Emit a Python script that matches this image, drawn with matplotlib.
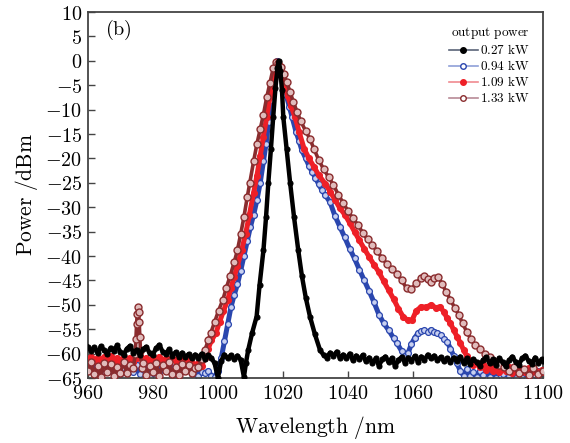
import matplotlib
matplotlib.use("Agg")
import matplotlib.pyplot as plt
from matplotlib.lines import Line2D

plt.rcParams['mathtext.fontset'] = 'cm'

# ---------------- data ----------------
x_027 = [960,961,962,963,964,965,966,967,968,969,970,971,972,973,974,975,976,977,978,979,
         980,981,982,983,984,985,986,987,988,989,990,991,992,993,994,995,996,997,998,999,
         1000,1001,1002,1003,1004,1005,1006,1007,1008,1008.6,1009.3,1010.5,1011.9,1012.8,1014,
         1014.8,1015.5,1016.3,1017,1017.7,1018.3,1018.7,1019.2,1019.7,1020.1,1021.1,1022.2,
         1023.4,1024.7,1025.8,1027,1028.3,1029.8,1031.4,1032.5,1033.5,1034.5,1035.5,1036.5,
         1037.5,1038.5,1039.5,1040.5,1041.5,1042.5,1043.5,1044.5,1045.5,1046.5,1047.5,1048.5,
         1049.5,1050.5,1051.5,1052.5,1053.5,1054.5,1055.5,1056.5,1057.5,1058.5,1059.5,1060.5,
         1061.5,1062.5,1063.5,1064.5,1065.5,1066.5,1067.5,1068.5,1069.5,1070.5,1071.5,1072.5,
         1073.5,1074.5,1075.5,1076.5,1077.5,1078.5,1079.5,1080.5,1081.5,1082.5,1083.5,1084.5,
         1085.5,1086.5,1087.5,1088.5,1089.5,1090.5,1091.5,1092.5,1093.5,1094.5,1095.5,1096.5,
         1097.5,1098.5,1099.5,1100]
y_027 = [-58.6,-59.4,-58.7,-59.9,-58.5,-59.3,-60.1,-58.8,-59.5,-58.3,-59.7,-60.2,-59.0,-58.4,-59.8,
         -59.2,-60.3,-59.1,-58.6,-59.9,-60.2,-58.9,-58.2,-59.6,-60.0,-59.1,-60.4,-59.7,-60.6,-59.8,
         -60.7,-60.1,-61.0,-60.2,-60.8,-60.0,-61.1,-60.3,-60.9,-62.0,-65.0,-61.5,-60.2,-61.0,-60.3,
         -61.2,-60.4,-61.3,-64.8,-62.0,-59.3,-55.8,-52.4,-46.0,-38.8,-32.0,-25.0,-18.0,-11.5,-5.5,
         -1.5,0.0,-2.0,-6.0,-11.5,-18.0,-25.0,-32.0,-38.8,-44.0,-48.5,-52.4,-56.0,-59.3,-60.3,
         -60.8,-59.8,-60.5,-59.6,-60.9,-60.2,-61.0,-60.0,-61.4,-60.4,-61.2,-60.3,-61.6,-60.8,-62.0,
         -61.0,-62.5,-61.2,-60.6,-61.8,-60.9,-62.6,-61.3,-60.7,-61.9,-60.8,-61.5,-60.5,-61.7,-60.6,
         -61.3,-60.2,-61.0,-60.4,-61.4,-60.7,-61.6,-60.9,-61.8,-60.8,-61.5,-60.6,-61.9,-61.0,-62.2,
         -61.1,-61.8,-62.5,-61.3,-60.7,-62.0,-61.2,-62.4,-60.9,-61.8,-62.6,-61.4,-60.6,-61.7,-62.3,
         -61.0,-60.4,-61.5,-62.1,-60.8,-61.9,-61.2,-61.6]

x_094 = [960,961,962,963,964,965,966,967,968,969,970,971,972,973,974,975,976,977,978,979,
         980,981,982,983,984,985,986,987,988,989,990,991,992,993,994,995,996,997,998,999,
         1000,1001,1002,1003,1004,1005,1006,1007,1008,1009,1010,1011,1012,1013,1014,1014.8,
         1015.6,1016.4,1017.2,1017.8,1018.3,1019,1020,1021,1022,1022.8,1024,1025,1025.8,1027,
         1028,1029,1030,1031,1032,1033,1034.5,1036,1037.5,1039,1040.5,1042,1043.5,1045,1046.5,
         1048,1049.5,1051,1052.5,1054,1055,1056.5,1057.5,1058.5,1059.5,1060.5,1061.5,1062.5,
         1063.5,1064.5,1065.5,1066.5,1067.5,1068.5,1069.5,1070.5,1071.5,1072.5,1073.5,1074.5,
         1075.5,1076.5,1077.5,1078.5,1079.5,1080.5,1081.5,1082.5,1083.5,1084.5,1085.5,1086.5,
         1087.5,1088.5,1089.5,1090.5,1091.5,1092.5,1093.5,1094.5,1095.5,1096.5,1097.5,1098.5,
         1099.5,1100]
y_094 = [-63.0,-62.2,-63.8,-62.5,-64.0,-62.8,-63.5,-62.1,-63.9,-62.6,-64.2,-62.9,-63.3,-62.0,-63.7,
         -62.4,-64.1,-62.7,-63.6,-62.3,-63.9,-62.5,-64.3,-62.8,-63.4,-62.2,-63.8,-62.6,-64.0,-62.9,
         -63.5,-62.4,-64.2,-63.1,-64.5,-63.8,-64.0,-63.5,-64.5,-64.8,-63.5,-61.0,-57.5,-54.0,-50.5,
         -48.0,-45.8,-43.0,-40.0,-37.0,-34.0,-31.5,-28.5,-25.0,-20.5,-17.0,-12.5,-8.0,-4.0,-1.0,
         0.0,-1.5,-4.0,-7.0,-9.5,-11.5,-14.5,-16.5,-18.3,-20.0,-21.5,-22.8,-24.0,-25.3,-26.5,
         -27.5,-29.0,-31.8,-34.0,-36.2,-38.5,-40.5,-42.8,-45.0,-47.2,-49.5,-52.0,-53.8,-55.2,
         -56.8,-57.8,-59.5,-60.5,-59.8,-58.0,-56.8,-55.8,-55.4,-55.2,-55.6,-55.1,-55.5,-55.7,
         -56.2,-57.0,-57.6,-59.0,-60.5,-62.0,-63.5,-64.5,-63.2,-64.6,-63.8,-64.8,-63.5,-64.4,
         -63.0,-64.7,-63.6,-64.9,-63.4,-64.2,-63.1,-64.6,-63.7,-64.9,-63.3,-64.5,-63.9,-64.8,
         -63.2,-64.3,-63.6,-64.7,-64.0]

x_109 = [960,961,962,963,964,965,966,967,968,969,970,971,972,973,974,975,976,977,978,979,
         980,981,982,983,984,985,986,987,988,989,990,991,992,993,994,995,996,997,998,999.4,
         1000.5,1001.7,1003,1004,1005,1006,1007.3,1008.5,1009.7,1011,1012,1013,1014,1015,1016,
         1016.8,1017.5,1018.2,1018.8,1019.5,1020.5,1021.5,1022.5,1023.7,1025,1026.5,1028,1029.5,
         1031,1033,1034.5,1036,1037.5,1039,1040.5,1042,1043.5,1045,1046.5,1048,1049.5,1051,
         1052.5,1054,1055.5,1057,1058.5,1059.7,1061,1062.5,1064,1065.5,1067,1068.3,1069.5,
         1070.5,1071.5,1072.5,1073.5,1074.5,1075.5,1076.5,1077.5,1078.5,1079.5,1080.5,1081.5,
         1082.5,1083.5,1084.5,1085.5,1086.5,1087.5,1088.5,1089.5,1090.5,1091.5,1092.5,1093.5,
         1094.5,1095.5,1096.5,1097.5,1098.5,1099.5,1100]
y_109 = [-61.2,-60.6,-61.5,-60.8,-61.9,-60.7,-61.3,-60.5,-61.6,-60.9,-61.8,-60.6,-61.4,-60.8,-61.7,
         -61.0,-60.5,-61.6,-60.9,-61.8,-60.7,-61.4,-60.6,-61.7,-61.0,-61.9,-60.8,-61.5,-60.7,-61.8,
         -61.1,-61.6,-61.9,-62.4,-62.0,-62.5,-60.8,-59.0,-57.3,-55.8,-53.5,-51.3,-49.0,-46.5,-44.3,
         -42.0,-38.8,-35.5,-31.5,-27.0,-23.5,-19.5,-15.5,-11.5,-7.5,-4.0,-1.5,-0.3,-0.8,-2.3,-5.0,
         -7.3,-9.3,-11.5,-14.6,-18.0,-20.0,-21.7,-23.4,-25.2,-26.8,-28.5,-30.2,-31.5,-33.2,-35.0,
         -36.8,-38.5,-40.2,-41.8,-43.3,-45.2,-47.0,-48.8,-50.8,-52.5,-53.2,-53.1,-51.2,-50.4,-50.5,
         -50.0,-50.6,-50.4,-51.5,-52.8,-53.8,-55.2,-56.5,-57.8,-59.2,-60.5,-61.5,-62.3,-62.0,-62.8,
         -62.2,-63.3,-62.6,-63.5,-62.9,-63.8,-63.0,-63.6,-62.8,-63.9,-63.2,-64.0,-63.1,-63.7,-62.9,
         -63.8,-63.3,-64.1,-63.4,-63.8]

x_133 = [960,961,962,963,964,965,966,967,968,969,970,971,972,973,974,974.6,974.8,975.0,975.2,
         975.4,975.6,975.8,976.0,976.2,976.6,977,978,979,980,981,982,983,984,985,986,987,988,989,
         990,991,992,993,994,995,996,997,997.8,999,1000.2,1001.5,1002.6,1003.8,1005,1006,1007,
         1008,1009,1009.8,1011,1012,1013,1014,1015,1016,1017,1017.8,1018.5,1019.3,1020.2,1021.2,
         1022.2,1023.2,1024.3,1025.5,1027,1028.3,1029.5,1031,1032.5,1034,1035.5,1037,1038.5,1040,
         1041.5,1043,1044.5,1046,1047.5,1049,1050.5,1052,1053.5,1055,1056.5,1058,1059.5,1061,
         1062.5,1063.5,1064.5,1065.5,1066.5,1067.7,1069,1070.2,1071.5,1072.8,1074,1075.2,1076.5,
         1077.7,1079,1080.5,1082,1083.5,1085,1086.5,1088,1089.5,1091,1092.5,1094,1095.5,1097,
         1098.5,1100]
y_133 = [-63.5,-61.8,-64.2,-62.5,-64.8,-61.9,-63.7,-62.2,-64.5,-62.8,-64.0,-61.7,-63.9,-62.4,-63.0,
         -60.0,-57.0,-54.0,-51.8,-50.5,-51.5,-53.5,-56.5,-59.5,-63.0,-62.0,-64.3,-62.6,-63.8,-61.9,
         -64.6,-62.3,-63.6,-61.8,-64.1,-62.7,-64.4,-62.1,-63.5,-62.4,-64.0,-62.9,-62.7,-61.2,-59.3,
         -57.3,-55.8,-53.5,-51.2,-49.0,-46.5,-44.0,-41.3,-38.8,-35.5,-32.0,-28.0,-25.0,-20.5,-17.0,
         -14.0,-11.0,-7.5,-4.5,-1.5,-0.3,-0.5,-1.3,-2.6,-4.4,-6.4,-8.4,-10.4,-12.4,-14.4,-16.0,
         -18.0,-20.3,-22.2,-23.8,-25.4,-27.4,-29.1,-30.8,-32.3,-33.6,-35.2,-36.6,-37.8,-39.0,-40.5,
         -41.6,-42.7,-43.6,-45.0,-46.6,-46.8,-45.5,-44.5,-44.0,-44.8,-45.4,-44.6,-44.2,-45.8,-47.4,
         -49.0,-50.6,-52.0,-53.8,-55.5,-57.0,-58.2,-59.0,-60.0,-60.6,-61.5,-62.3,-62.8,-63.5,-62.7,
         -64.0,-63.2,-64.4,-63.0,-64.2,-63.6]

series_labels = ['0.27 kW', '0.94 kW', '1.09 kW', '1.33 kW']
xticks = [960, 980, 1000, 1020, 1040, 1060, 1080, 1100]
yticks = [10, 5, 0, -5, -10, -15, -20, -25, -30, -35, -40, -45, -50, -55, -60, -65]

# ---------------- figure ----------------
fig = plt.figure(figsize=(5.70, 4.43), dpi=100)
ax = fig.add_axes([0.154, 0.1467, 0.799, 0.826])

c_blk = '#000000'
c_blu = '#2A46AE'
c_red = '#EE2027'
c_drd = '#8A2C2E'

ax.plot(x_094, y_094, color=c_blu, lw=3.6, marker='o', ms=4.2, mfc='#C8D0F0', mec=c_blu, mew=0.9, zorder=2)
ax.plot(x_109, y_109, color=c_red, lw=3.6, marker='o', ms=4.2, mfc=c_red, mec=c_red, mew=0.9, zorder=3)
ax.plot(x_133, y_133, color=c_drd, lw=2.6, marker='o', ms=5.0, mfc='#E0BCBC', mec=c_drd, mew=1.0, zorder=4)
ax.plot(x_027, y_027, color=c_blk, lw=3.2, marker='o', ms=3.6, mfc=c_blk, mec=c_blk, mew=0.8, zorder=5)

ax.set_xlim(960, 1100)
ax.set_ylim(-65, 10)
ax.set_xticks(xticks)
ax.set_xticklabels(['$%d$' % v for v in xticks], fontsize=14.5)
ax.set_yticks(yticks)
ax.set_yticklabels(['$%d$' % v for v in yticks], fontsize=14.5)
ax.tick_params(direction='in', length=5, width=1.0, color='#444444', pad=4)
for sp in ax.spines.values():
    sp.set_color('#444444')
    sp.set_linewidth(1.3)

ax.set_xlabel(r'$\mathrm{Wavelength\ /nm}$', fontsize=15.5, labelpad=8)
ax.set_ylabel(r'$\mathrm{Power\ /dBm}$', fontsize=15.5, labelpad=4)

ax.text(965.2, 6.3, r'$\mathrm{(b)}$', fontsize=14.5, ha='left', va='center')

handles = [
    Line2D([], [], color='#5A6478', lw=1.2, marker='o', ms=4, mfc=c_blk, mec=c_blk),
    Line2D([], [], color='#8FA0D8', lw=1.2, marker='o', ms=4, mfc='white', mec=c_blu),
    Line2D([], [], color='#F08A90', lw=1.2, marker='o', ms=4, mfc=c_red, mec=c_red),
    Line2D([], [], color='#B88A96', lw=1.2, marker='o', ms=4, mfc='white', mec=c_drd),
]
leg = ax.legend(handles, [r'$\mathrm{%s}$' % s.replace(' ', r'\ ') for s in series_labels],
                title=r'$\mathrm{output\ power}$', loc='upper right',
                bbox_to_anchor=(1.0, 1.0), frameon=False, fontsize=9.5,
                title_fontsize=9.5, handlelength=2.2, handletextpad=0.2,
                labelspacing=0.15, borderpad=0.5)
leg._legend_box.align = 'right'

fig.savefig('out.png', dpi=100)
